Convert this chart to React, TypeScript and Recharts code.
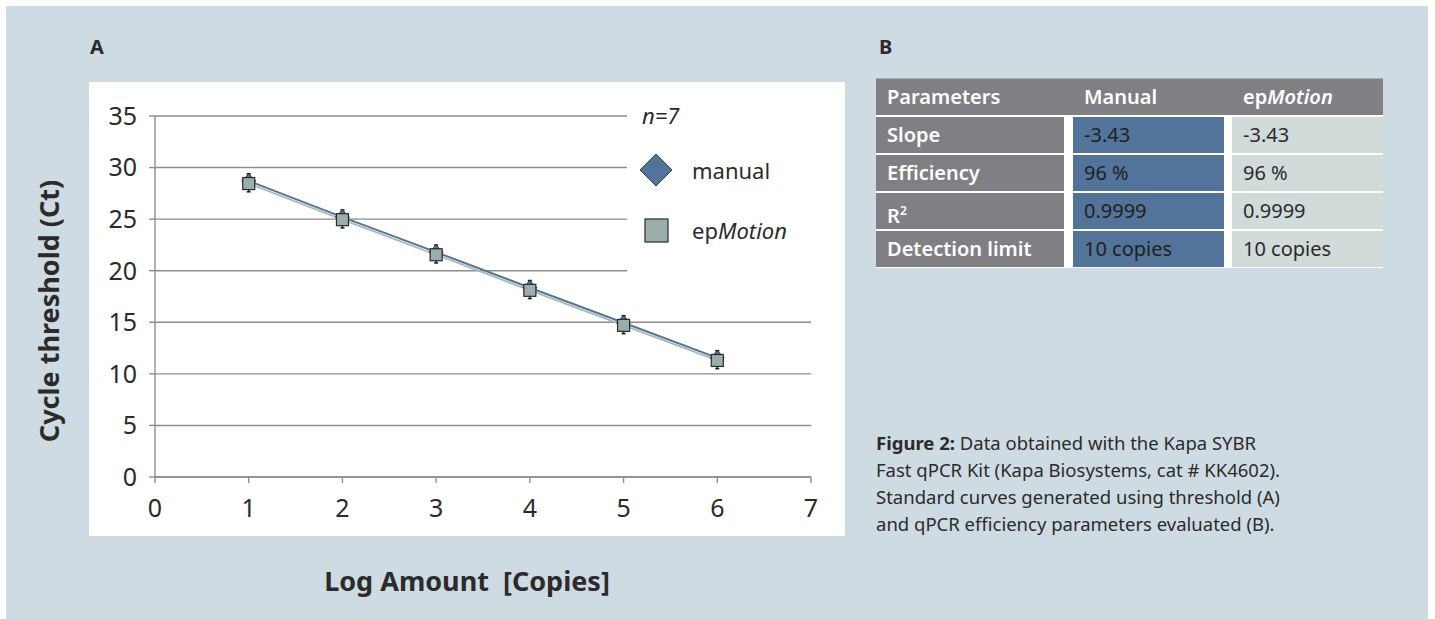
import React from "react";
import {
  ComposedChart,
  Line,
  XAxis,
  YAxis,
  CartesianGrid,
  Legend,
  ErrorBar,
} from "recharts";

const logAmounts = [1, 2, 3, 4, 5, 6];
const manualCt = [28.7, 25.2, 21.8, 18.35, 14.95, 11.55];
const epMotionCt = [28.45, 24.95, 21.55, 18.1, 14.7, 11.3];
const manualSd = [0.7, 0.7, 0.7, 0.7, 0.7, 0.7];
const epMotionSd = [0.8, 0.8, 0.8, 0.8, 0.8, 0.8];
const xTicks = [0, 1, 2, 3, 4, 5, 6, 7];
const yTicks = [0, 5, 10, 15, 20, 25, 30, 35];
const legendOrder = ["manual", "epMotion"];

const tableHeader = ["Parameters", "Manual", "epMotion"];
const parameterNames = ["Slope", "Efficiency", "R2", "Detection limit"];
const manualParams = ["-3.43", "96 %", "0.9999", "10 copies"];
const epMotionParams = ["-3.43", "96 %", "0.9999", "10 copies"];

const captionLines = [
  "Data obtained with the Kapa SYBR",
  "Fast qPCR Kit (Kapa Biosystems, cat # KK4602).",
  "Standard curves generated using threshold (A)",
  "and qPCR efficiency parameters evaluated (B).",
];

const data = logAmounts.map((x, i) => ({
  x,
  manual: manualCt[i],
  manualSd: manualSd[i],
  epMotion: epMotionCt[i],
  epMotionSd: epMotionSd[i],
}));

const PANEL = "#cfdbe3";
const TEXT = "#2b2b2b";
const GRID = "#8e8e90";
const BLUE = "#52749a";
const SAGE = "#9aaeab";
const CELL_GRAY = "#808084";
const FONT = "'Noto Sans', sans-serif";

// "epMotion" is always written with an italic "Motion"
function brand(name: string) {
  if (name.startsWith("ep")) {
    return (
      <>
        ep<i>{name.slice(2)}</i>
      </>
    );
  }
  return name;
}

function DiamondDot(props: any) {
  const { cx, cy, index } = props;
  if (cx == null || cy == null) return <g key={index} />;
  const r = 7;
  return (
    <path
      key={index}
      d={`M${cx},${cy - r}L${cx + r},${cy}L${cx},${cy + r}L${cx - r},${cy}Z`}
      fill={BLUE}
      stroke="#2f4562"
      strokeWidth={1}
    />
  );
}

function SquareDot(props: any) {
  const { cx, cy, index } = props;
  if (cx == null || cy == null) return <g key={index} />;
  const s = 12;
  return (
    <rect
      key={index}
      x={cx - s / 2}
      y={cy - s / 2}
      width={s}
      height={s}
      fill={SAGE}
      stroke="#2a2a2a"
      strokeWidth={1.2}
    />
  );
}

function LegendBox({ payload }: any) {
  const items = (payload || [])
    .filter((p: any) => legendOrder.includes(p.value))
    .sort(
      (a: any, b: any) =>
        legendOrder.indexOf(a.value) - legendOrder.indexOf(b.value)
    );
  return (
    <div
      style={{
        background: "#fff",
        width: "100%",
        height: "100%",
        fontFamily: FONT,
        color: TEXT,
        fontSize: 22,
      }}
    >
      <div
        style={{
          height: 30,
          paddingLeft: 15,
          lineHeight: "30px",
          fontStyle: "italic",
        }}
      >
        n=7
      </div>
      <div style={{ height: 10 }} />
      {items.map((item: any) => (
        <div
          key={item.value}
          style={{ height: 60, display: "flex", alignItems: "center" }}
        >
          <svg width={58} height={40} style={{ flex: "none" }}>
            {item.value === "manual" ? (
              <path
                d="M29,4L45,20L29,36L13,20Z"
                fill={BLUE}
                stroke="#2f4562"
                strokeWidth={1}
              />
            ) : (
              <rect
                x={18}
                y={9}
                width={23}
                height={23}
                fill={SAGE}
                stroke="#2a2a2a"
                strokeWidth={1.2}
              />
            )}
          </svg>
          <span style={{ marginLeft: 7 }}>{brand(item.value)}</span>
        </div>
      ))}
    </div>
  );
}

function StandardCurve() {
  return (
    <ComposedChart
      width={756}
      height={454}
      data={data}
      margin={{ top: 34, right: 34, left: 0, bottom: 0 }}
      style={{ background: "#fff" }}
    >
      <CartesianGrid vertical={false} stroke={GRID} strokeWidth={1.4} />
      <XAxis
        type="number"
        dataKey="x"
        domain={[0, 7]}
        ticks={xTicks}
        height={59}
        stroke={GRID}
        strokeWidth={1.4}
        tickSize={6}
        tickMargin={16}
        tick={{ fill: TEXT, fontSize: 25, fontFamily: FONT }}
        allowDataOverflow
      />
      <YAxis
        type="number"
        domain={[0, 35]}
        ticks={yTicks}
        width={66}
        stroke={GRID}
        strokeWidth={1.4}
        tickSize={6}
        tickMargin={12}
        tick={{ fill: TEXT, fontSize: 25, fontFamily: FONT }}
        allowDataOverflow
      />
      <Legend
        layout="vertical"
        align="center"
        verticalAlign="middle"
        content={<LegendBox />}
        wrapperStyle={{
          position: "absolute",
          left: 538,
          top: 18,
          width: 190,
          height: 190,
        }}
      />
      <Line
        name="manual"
        dataKey="manual"
        stroke={BLUE}
        strokeWidth={2}
        dot={DiamondDot}
        activeDot={false}
        isAnimationActive={false}
      >
        <ErrorBar
          dataKey="manualSd"
          width={2}
          stroke="#1e1e1e"
          strokeWidth={1.5}
          isAnimationActive={false}
        />
      </Line>
      <Line
        name="epMotion"
        dataKey="epMotion"
        stroke="#a6bbb6"
        strokeWidth={1.8}
        dot={SquareDot}
        activeDot={false}
        isAnimationActive={false}
      >
        <ErrorBar
          dataKey="epMotionSd"
          width={2}
          stroke="#1e1e1e"
          strokeWidth={1.5}
          isAnimationActive={false}
        />
      </Line>
    </ComposedChart>
  );
}

function ParamTable() {
  const cols = [
    { left: 0, width: 188, bg: CELL_GRAY, color: "#fff", weight: 600 },
    { left: 197, width: 151, bg: BLUE, color: "#1f1f1f", weight: 400 },
    { left: 356, width: 151, bg: "#d0dbda", color: TEXT, weight: 400 },
  ];
  const columns = [parameterNames, manualParams, epMotionParams];
  const cell = (text: string, key: string) =>
    text === "R2" ? (
      <span key={key}>
        R<sup style={{ fontSize: 12 }}>2</sup>
      </span>
    ) : (
      <span key={key}>{text}</span>
    );
  return (
    <div
      style={{
        position: "absolute",
        left: 876,
        top: 78,
        width: 507,
        height: 190,
        background: "#fff",
        fontFamily: FONT,
        fontSize: 20,
      }}
    >
      <div
        style={{
          position: "absolute",
          left: 0,
          top: 0,
          width: 507,
          height: 37,
          background: CELL_GRAY,
          borderTop: "1px solid #a9a9ab",
          boxSizing: "border-box",
        }}
      >
        {tableHeader.map((h, i) => (
          <div
            key={h}
            style={{
              position: "absolute",
              left: cols[i].left + 11,
              top: 0,
              lineHeight: "36px",
              color: "#fff",
              fontWeight: 600,
            }}
          >
            {brand(h)}
          </div>
        ))}
      </div>
      {parameterNames.map((_, r) =>
        cols.map((c, ci) => (
          <div
            key={`${r}-${ci}`}
            style={{
              position: "absolute",
              left: c.left,
              top: 39 + r * 38,
              width: c.width,
              height: 36,
              background: c.bg,
              color: c.color,
              fontWeight: c.weight,
              lineHeight: "36px",
              paddingLeft: 11,
              boxSizing: "border-box",
              whiteSpace: "nowrap",
            }}
          >
            {cell(columns[ci][r], `${r}-${ci}`)}
          </div>
        ))
      )}
    </div>
  );
}

export default function App() {
  return (
    <div
      style={{
        position: "fixed",
        left: 0,
        top: 0,
        width: 1435,
        height: 619,
        background: "#fff",
        fontFamily: FONT,
        color: TEXT,
        overflow: "hidden",
      }}
    >
      <div
        style={{
          position: "absolute",
          left: 6,
          top: 6,
          width: 1422,
          height: 613,
          background: PANEL,
        }}
      />
      <div
        style={{
          position: "absolute",
          left: 90,
          top: 33,
          fontWeight: 700,
          fontSize: 20,
          lineHeight: "28px",
        }}
      >
        A
      </div>
      <div
        style={{
          position: "absolute",
          left: 879,
          top: 33,
          fontWeight: 700,
          fontSize: 20,
          lineHeight: "28px",
        }}
      >
        B
      </div>
      <div style={{ position: "absolute", left: 89, top: 82 }}>
        <StandardCurve />
      </div>
      <div
        style={{
          position: "absolute",
          left: 48,
          top: 311,
          transform: "translate(-50%, -50%) rotate(-90deg)",
          whiteSpace: "nowrap",
          fontWeight: 700,
          fontSize: 27,
        }}
      >
        Cycle threshold (Ct)
      </div>
      <div
        style={{
          position: "absolute",
          left: 467,
          top: 580,
          transform: "translate(-50%, -50%)",
          whiteSpace: "pre",
          fontWeight: 700,
          fontSize: 27,
        }}
      >
        {"Log Amount  [Copies]"}
      </div>
      <ParamTable />
      <div
        style={{
          position: "absolute",
          left: 876,
          top: 429,
          fontSize: 18.5,
          lineHeight: "27px",
          whiteSpace: "nowrap",
        }}
      >
        {captionLines.map((line, i) => (
          <div key={i}>
            {i === 0 && <b>Figure 2: </b>}
            {line}
          </div>
        ))}
      </div>
    </div>
  );
}
